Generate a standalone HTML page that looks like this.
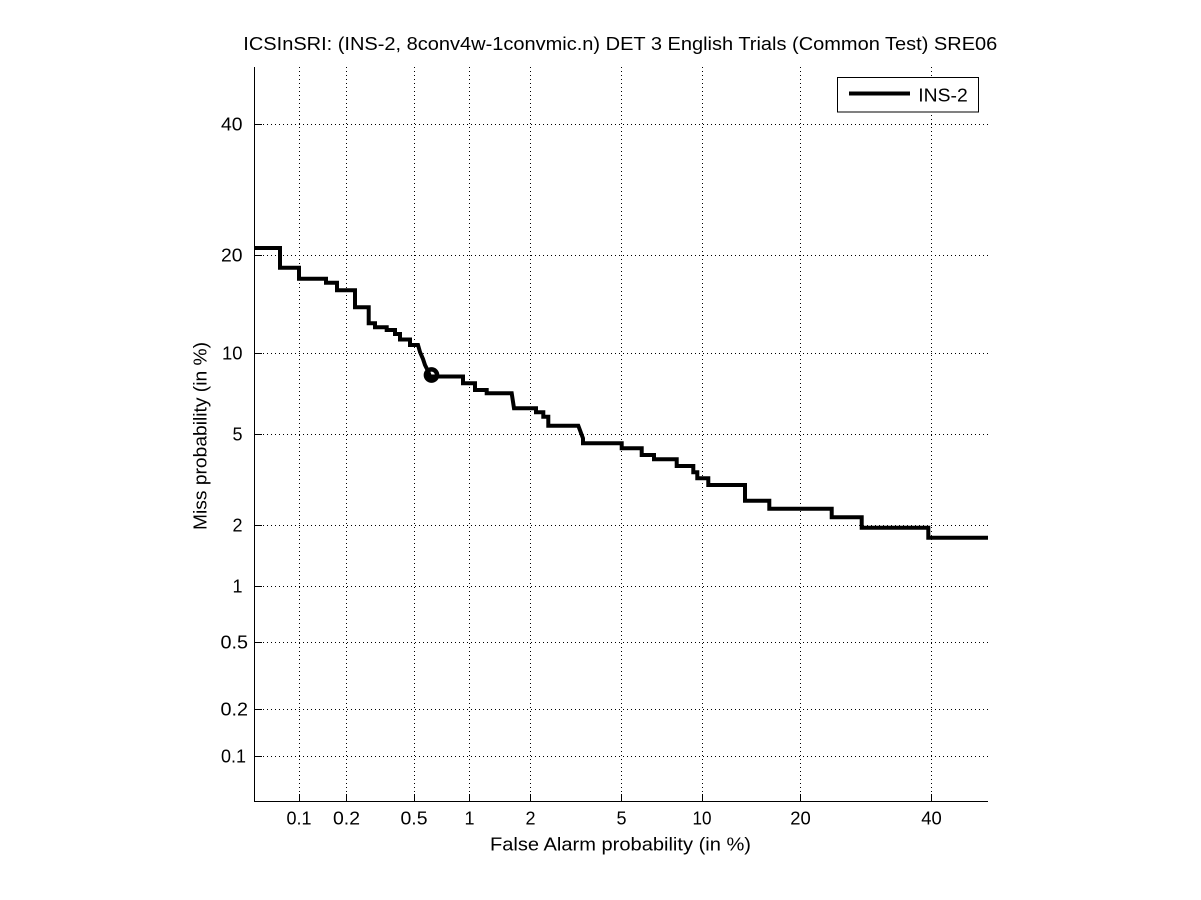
<!DOCTYPE html>
<html>
<head>
<meta charset="utf-8">
<style>
html,body{margin:0;padding:0;background:#fff;}
svg{display:block;}
text{font-family:"Liberation Sans",Arial,sans-serif;fill:#000;}
</style>
</head>
<body>
<svg width="1201" height="900" viewBox="0 0 1201 900" xmlns="http://www.w3.org/2000/svg">
<rect x="0" y="0" width="1201" height="900" fill="#fff"/>

<!-- grid -->
<g stroke="#000" stroke-width="1" stroke-dasharray="1 3" shape-rendering="crispEdges" fill="none">
  <line x1="299.5" y1="67" x2="299.5" y2="801"/>
  <line x1="346.5" y1="67" x2="346.5" y2="801"/>
  <line x1="414.5" y1="67" x2="414.5" y2="801"/>
  <line x1="469.5" y1="67" x2="469.5" y2="801"/>
  <line x1="530.5" y1="67" x2="530.5" y2="801"/>
  <line x1="621.5" y1="67" x2="621.5" y2="801"/>
  <line x1="702.5" y1="67" x2="702.5" y2="801"/>
  <line x1="800.5" y1="67" x2="800.5" y2="801"/>
  <line x1="931.5" y1="67" x2="931.5" y2="801"/>

  <line x1="255" y1="124.5" x2="988" y2="124.5"/>
  <line x1="255" y1="255.5" x2="988" y2="255.5"/>
  <line x1="255" y1="353.5" x2="988" y2="353.5"/>
  <line x1="255" y1="434.5" x2="988" y2="434.5"/>
  <line x1="255" y1="525.5" x2="988" y2="525.5"/>
  <line x1="255" y1="586.5" x2="988" y2="586.5"/>
  <line x1="255" y1="642.5" x2="988" y2="642.5"/>
  <line x1="255" y1="709.5" x2="988" y2="709.5"/>
  <line x1="255" y1="756.5" x2="988" y2="756.5"/>
</g>

<!-- axes -->
<g stroke="#000" stroke-width="1" shape-rendering="crispEdges" fill="none">
  <line x1="254.5" y1="67" x2="254.5" y2="802"/>
  <line x1="254" y1="801.5" x2="988" y2="801.5"/>
  <!-- x ticks -->
  <line x1="299.5" y1="801" x2="299.5" y2="794"/>
  <line x1="346.5" y1="801" x2="346.5" y2="794"/>
  <line x1="414.5" y1="801" x2="414.5" y2="794"/>
  <line x1="469.5" y1="801" x2="469.5" y2="794"/>
  <line x1="530.5" y1="801" x2="530.5" y2="794"/>
  <line x1="621.5" y1="801" x2="621.5" y2="794"/>
  <line x1="702.5" y1="801" x2="702.5" y2="794"/>
  <line x1="800.5" y1="801" x2="800.5" y2="794"/>
  <line x1="931.5" y1="801" x2="931.5" y2="794"/>
  <!-- y ticks -->
  <line x1="255" y1="124.5" x2="262" y2="124.5"/>
  <line x1="255" y1="255.5" x2="262" y2="255.5"/>
  <line x1="255" y1="353.5" x2="262" y2="353.5"/>
  <line x1="255" y1="434.5" x2="262" y2="434.5"/>
  <line x1="255" y1="525.5" x2="262" y2="525.5"/>
  <line x1="255" y1="586.5" x2="262" y2="586.5"/>
  <line x1="255" y1="642.5" x2="262" y2="642.5"/>
  <line x1="255" y1="709.5" x2="262" y2="709.5"/>
  <line x1="255" y1="756.5" x2="262" y2="756.5"/>
</g>

<!-- y tick labels -->
<g font-size="18" text-anchor="end">
  <text x="242.5" y="130.5" textLength="21.5" lengthAdjust="spacingAndGlyphs">40</text>
  <text x="242.5" y="261.5" textLength="21.5" lengthAdjust="spacingAndGlyphs">20</text>
  <text x="242.5" y="359.5" textLength="20.5" lengthAdjust="spacingAndGlyphs">10</text>
  <text x="242.5" y="440.5">5</text>
  <text x="242.5" y="531.5">2</text>
  <text x="242.5" y="592.5">1</text>
  <text x="248" y="648.5" textLength="27.5" lengthAdjust="spacingAndGlyphs">0.5</text>
  <text x="248" y="715.5" textLength="27.5" lengthAdjust="spacingAndGlyphs">0.2</text>
  <text x="246" y="762.5" textLength="25" lengthAdjust="spacingAndGlyphs">0.1</text>
</g>

<!-- x tick labels -->
<g font-size="18" text-anchor="middle">
  <text x="299" y="824.5" textLength="25" lengthAdjust="spacingAndGlyphs">0.1</text>
  <text x="346.5" y="824.5" textLength="27" lengthAdjust="spacingAndGlyphs">0.2</text>
  <text x="414" y="824.5" textLength="27" lengthAdjust="spacingAndGlyphs">0.5</text>
  <text x="469.5" y="824.5">1</text>
  <text x="530.5" y="824.5">2</text>
  <text x="621.5" y="824.5">5</text>
  <text x="702" y="824.5" textLength="19" lengthAdjust="spacingAndGlyphs">10</text>
  <text x="800.5" y="824.5" textLength="20.5" lengthAdjust="spacingAndGlyphs">20</text>
  <text x="931.5" y="824.5" textLength="20.5" lengthAdjust="spacingAndGlyphs">40</text>
</g>

<!-- curve -->
<path d="M254,248 H280 V267.7 H299 V278.7 H326 V282.7 H337 V290.3 H355 V307.3 H368.7 V323.3 H375 V327.3 H386.7 V330 H395 V334 H400 V339.5 H410 V345 H418 L420,352 L423,359 L425,365 L428,371 L430,376.5 H463 V383.3 H475 V390 H486.7 V393.3 H511.7 L514,408.3 H536 V412.3 H543.3 V416.7 H548.3 V425.7 H578.3 L583,438.3 V443.3 H621.7 V448.3 H641.7 V455 H654 V459.3 H676.7 V466 H693.3 V472.3 H697.3 V478.3 H708.3 V485 H745 V500.7 H769.3 V508.7 H831.7 V517.3 H861.7 V527.7 H928.3 V537.7 H988" fill="none" stroke="#000" stroke-width="4" stroke-linejoin="miter" stroke-linecap="butt"/>

<!-- operating point circle -->
<circle cx="431.5" cy="375" r="5.6" fill="none" stroke="#000" stroke-width="4.5"/>

<!-- legend -->
<rect x="837.5" y="77.5" width="141" height="34.5" fill="#fff" stroke="#000" stroke-width="1" shape-rendering="crispEdges"/>
<line x1="849" y1="93.5" x2="910" y2="93.5" stroke="#000" stroke-width="4"/>
<text x="918.3" y="101.7" font-size="18" textLength="49.4" lengthAdjust="spacingAndGlyphs">INS-2</text>

<!-- title -->
<text x="243.3" y="50" font-size="18" textLength="754" lengthAdjust="spacingAndGlyphs">ICSInSRI: (INS-2, 8conv4w-1convmic.n) DET 3 English Trials (Common Test) SRE06</text>

<!-- x label -->
<text x="490" y="850.7" font-size="18" textLength="261" lengthAdjust="spacingAndGlyphs">False Alarm probability (in %)</text>

<!-- y label -->
<text transform="translate(206.7,436) rotate(-90)" x="0" y="0" font-size="18" text-anchor="middle" textLength="188" lengthAdjust="spacingAndGlyphs">Miss probability (in %)</text>
</svg>
</body>
</html>
